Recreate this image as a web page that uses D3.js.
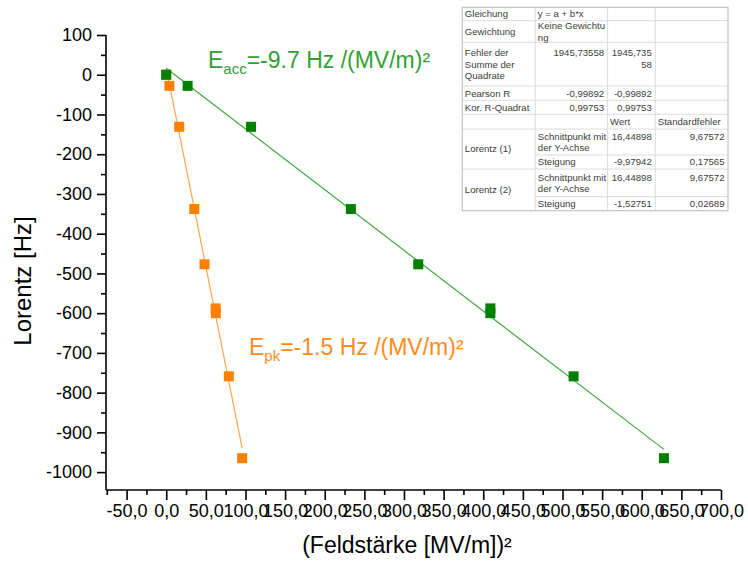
<!DOCTYPE html>
<html>
<head>
<meta charset="utf-8">
<script src="https://cdn.jsdelivr.net/npm/d3@7"></script>
<style>
  body { margin: 0; background: #fff; }
  svg { display: block; font-family: "Liberation Sans", Arial, sans-serif; }
</style>
</head>
<body>
<svg id="chart" width="748" height="564"></svg>
<script>
// Lorentz detuning against squared field strength (acc. and peak field)
const lorentzHz  = [0, -28, -131, -338, -477, -588, -600, -759, -965];
const fieldAccSq = [0, 27, 107, 233, 318, 409, 409, 514, 628];
const fieldPkSq  = [0, 4, 16.4, 35.4, 48.3, 62.3, 62.6, 79, 95.8];

// linear fit y = a + b*x ; index 0 = Lorentz (1) (peak field), 1 = Lorentz (2) (acc. field)
const fitIntercept    = [16.44898, 16.44898];
const fitInterceptErr = [9.67572, 9.67572];
const fitSlope        = [-9.97942, -1.52751];
const fitSlopeErr     = [0.17565, 0.02689];
const fitResidualSS   = 1945.73558;
const fitPearsonR     = -0.99892;
const fitAdjR2        = 0.99753;

const xTicks = d3.range(-50, 701, 50);
const xMinorTicks = d3.range(-75, 701, 50);
const yTicks = d3.range(-1000, 101, 100);
const yMinorTicks = d3.range(-950, 100, 100);

const labelAcc = { main: "E", sub: "acc", rest: "=-9.7 Hz /(MV/m)²" };
const labelPk  = { main: "E", sub: "pk",  rest: "=-1.5 Hz /(MV/m)²" };

const deLocale = d3.formatLocale({ decimal: ",", thousands: ".", grouping: [3], currency: ["", " €"], minus: "-" });
const fmt1 = deLocale.format(".1f");
const fmt5 = deLocale.format(".5f");
const fmtInt = deLocale.format("d");

const svg = d3.select("#chart");

const x = d3.scaleLinear().domain([-76, 700]).range([106, 721]);
const y = d3.scaleLinear().domain([-1045, 100]).range([490, 35]);

// axes
const axX = svg.append("g").attr("transform", `translate(0,${y.range()[0]})`)
  .call(d3.axisBottom(x).tickValues(xTicks).tickSize(10).tickPadding(4).tickFormat(fmt1));
const axXm = svg.append("g").attr("transform", `translate(0,${y.range()[0]})`)
  .call(d3.axisBottom(x).tickValues(xMinorTicks).tickSize(5).tickFormat(""));
const axY = svg.append("g").attr("transform", `translate(${x.range()[0]},0)`)
  .call(d3.axisLeft(y).tickValues(yTicks).tickSize(9).tickPadding(5).tickFormat(fmtInt));
const axYm = svg.append("g").attr("transform", `translate(${x.range()[0]},0)`)
  .call(d3.axisLeft(y).tickValues(yMinorTicks).tickSize(5).tickFormat(""));

[axXm, axYm].forEach(g => g.select(".domain").remove());
[axX, axY, axXm, axYm].forEach(g => {
  g.selectAll("path, line").attr("stroke", "#000").attr("stroke-width", 1.6);
});
[axX, axY].forEach(g => g.selectAll("text").attr("fill", "#000").attr("font-size", 18));
axX.selectAll(".domain").attr("d", `M${x.range()[0]},0H${x.range()[1]}`);
axY.selectAll(".domain").attr("d", `M0,${y.range()[0]}V${y.range()[1]}`);

// axis titles
svg.append("text")
  .attr("transform", `translate(31,281) rotate(-90)`)
  .attr("text-anchor", "middle").attr("font-size", 24).attr("fill", "#000")
  .text("Lorentz [Hz]");
svg.append("text")
  .attr("x", 407).attr("y", 553)
  .attr("text-anchor", "middle").attr("font-size", 23).attr("fill", "#000")
  .text("(Feldstärke [MV/m])²");

// series: fit line + square markers
const series = [
  { xs: fieldPkSq,  fit: 0, line: "#ffa64d", mark: "#ff8000" },
  { xs: fieldAccSq, fit: 1, line: "#3fa83f", mark: "#008000" }
];
series.forEach(s => {
  const x0 = d3.min(s.xs), x1 = d3.max(s.xs);
  svg.append("line")
    .attr("x1", x(x0)).attr("y1", y(fitIntercept[s.fit] + fitSlope[s.fit] * x0))
    .attr("x2", x(x1)).attr("y2", y(fitIntercept[s.fit] + fitSlope[s.fit] * x1))
    .attr("stroke", s.line).attr("stroke-width", 1.2);
});
series.forEach(s => {
  svg.append("g").selectAll("rect")
    .data(s.xs.map((v, i) => [v, lorentzHz[i]]))
    .join("rect")
    .attr("x", d => x(d[0]) - 5).attr("y", d => y(d[1]) - 5)
    .attr("width", 10).attr("height", 10)
    .attr("fill", s.mark);
});

// slope annotations
function annotate(lbl, px, py, color) {
  const t = svg.append("text").attr("x", px).attr("y", py)
    .attr("font-size", 23).attr("fill", color);
  t.append("tspan").text(lbl.main);
  t.append("tspan").attr("dy", 6).attr("font-size", 15).text(lbl.sub);
  t.append("tspan").attr("dy", -6).text(lbl.rest);
}
annotate(labelAcc, 208, 68, "#34a034");
annotate(labelPk, 249, 355, "#ff8c1a");

// fit result table
const tableRows = [
  ["Gleichung", "y = a + b*x", "", ""],
  ["Gewichtung", "Keine Gewichtu\nng", "", ""],
  ["Fehler der\nSumme der\nQuadrate", fmt5(fitResidualSS), "1945,735\n58", ""],
  ["Pearson R", fmt5(fitPearsonR), fmt5(fitPearsonR), ""],
  ["Kor. R-Quadrat", fmt5(fitAdjR2), fmt5(fitAdjR2), ""],
  ["", "", "Wert", "Standardfehler"],
  ["Lorentz (1)", "Schnittpunkt mit\nder Y-Achse", fmt5(fitIntercept[0]), fmt5(fitInterceptErr[0])],
  [null, "Steigung", fmt5(fitSlope[0]), fmt5(fitSlopeErr[0])],
  ["Lorentz (2)", "Schnittpunkt mit\nder Y-Achse", fmt5(fitIntercept[1]), fmt5(fitInterceptErr[1])],
  [null, "Steigung", fmt5(fitSlope[1]), fmt5(fitSlopeErr[1])]
];
const colW = [73, 72.3, 47.7, 72.7];
const rowH = [13.4, 21.6, 43.7, 14.3, 14, 14.7, 26, 14, 27.7, 14];
const tx0 = 462.3, ty0 = 7.3, lh = 11.3;
const colX = [tx0]; colW.forEach(w => colX.push(colX[colX.length - 1] + w));
const rowY = [ty0]; rowH.forEach(h => rowY.push(rowY[rowY.length - 1] + h));

const tbl = svg.append("g").attr("font-size", 9.6).attr("fill", "#3c3c3c");
tbl.append("rect").attr("x", tx0).attr("y", ty0)
  .attr("width", colX[4] - tx0).attr("height", rowY[rowY.length - 1] - ty0)
  .attr("fill", "#fff");
// inner grid
for (let r = 1; r < rowH.length; r++) {
  const merged = tableRows[r][0] === null;
  tbl.append("line").attr("x1", merged ? colX[1] : colX[0]).attr("x2", colX[4])
    .attr("y1", rowY[r]).attr("y2", rowY[r]).attr("stroke", "#dcdcdc").attr("stroke-width", 1);
}
for (let c = 1; c < 4; c++) {
  tbl.append("line").attr("x1", colX[c]).attr("x2", colX[c])
    .attr("y1", rowY[0]).attr("y2", rowY[rowY.length - 1]).attr("stroke", "#dcdcdc").attr("stroke-width", 1);
}
tbl.append("rect").attr("x", tx0).attr("y", ty0)
  .attr("width", colX[4] - tx0).attr("height", rowY[rowY.length - 1] - ty0)
  .attr("fill", "none").attr("stroke", "#c4c4c4").attr("stroke-width", 1.2);

const isNum = s => /^-?[\d,]+$/.test(s.replace(/\n/g, ""));
tableRows.forEach((row, r) => {
  const nLines = d3.max(row, c => c ? c.split("\n").length : 1);
  const rc = (rowY[r] + rowY[r + 1]) / 2;
  const blockTop = rc - (nLines - 1) * lh / 2;
  row.forEach((cell, c) => {
    if (!cell) return;
    const lines = cell.split("\n");
    let top = blockTop;
    let cy = rc;
    if (c === 0) {
      // first column is centred, spanning the merged row below if any
      const span = (r + 1 < tableRows.length && tableRows[r + 1][0] === null) ? 2 : 1;
      cy = (rowY[r] + rowY[r + span]) / 2;
      top = cy - (lines.length - 1) * lh / 2;
    }
    const right = isNum(cell);
    lines.forEach((ln, i) => {
      tbl.append("text")
        .attr("x", right ? colX[c + 1] - 3.5 : colX[c] + 2.5)
        .attr("y", top + i * lh)
        .attr("dy", "0.35em")
        .attr("text-anchor", right ? "end" : "start")
        .text(ln);
    });
  });
});
</script>
</body>
</html>
